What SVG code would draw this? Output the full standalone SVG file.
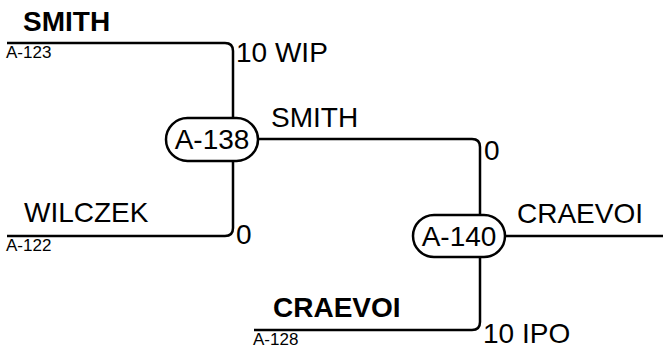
<svg xmlns="http://www.w3.org/2000/svg" width="663" height="353" viewBox="0 0 663 353">
<style>
.ln{fill:none;stroke:#000;stroke-width:2.5}
.t{font-family:"Liberation Sans",Arial,sans-serif;font-size:28px;fill:#000}
.b{font-weight:bold}
.s{font-family:"Liberation Sans",Arial,sans-serif;font-size:17px;fill:#000}
.nd{fill:#fff;stroke:#000;stroke-width:2.5}
</style>
<rect width="663" height="353" fill="#fff"/>
<g id="connectors">
<path class="ln" d="M7,43 H225 Q233,43 233,51 V118"/>
<path class="ln" d="M233,161 V228 Q233,236 225,236 H7"/>
<path class="ln" d="M258,139 H472 Q480,139 480,147 V215"/>
<path class="ln" d="M480,257 V322 Q480,330 472,330 H254"/>
<path class="ln" d="M505,236 H663"/>
</g>
<g id="labels">
<text class="t b" x="23" y="31">SMITH</text>
<text class="s" x="6" y="58">A-123</text>
<text class="t" x="236" y="62">10 WIP</text>
<text class="t" x="24" y="222">WILCZEK</text>
<text class="s" x="6" y="251">A-122</text>
<text class="t" x="236" y="244">0</text>
<text class="t" x="271" y="127">SMITH</text>
<text class="t" x="484" y="160">0</text>
<text class="t" x="517" y="223">CRAEVOI</text>
<text class="t b" x="273" y="317">CRAEVOI</text>
<text class="s" x="253" y="345">A-128</text>
<text class="t" x="483" y="343">10 IPO</text>
</g>
<g id="A-138">
<rect class="nd" x="166" y="118" width="92" height="43" rx="21.5"/>
<text class="t" x="212" y="149" text-anchor="middle">A-138</text>
</g>
<g id="A-140">
<rect class="nd" x="413" y="215" width="92" height="42" rx="21"/>
<text class="t" x="459" y="246" text-anchor="middle">A-140</text>
</g>
</svg>
